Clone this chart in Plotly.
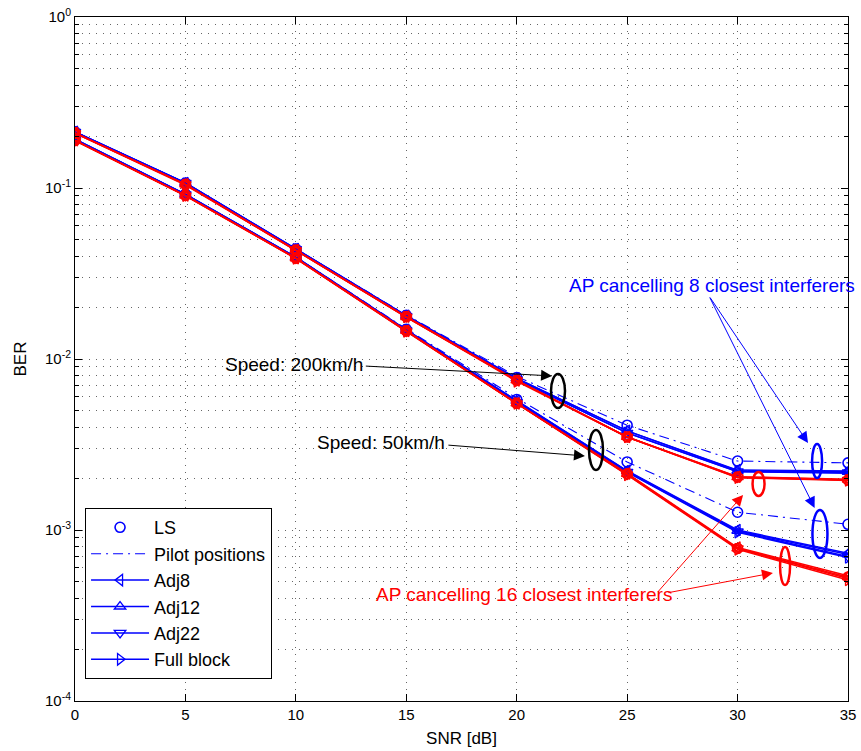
import math
import plotly.graph_objects as go

# ---------------------------------------------------------------------------
# BER vs SNR for channel estimators, two user speeds, two AP cancelling modes
# ---------------------------------------------------------------------------
snr = [0, 5, 10, 15, 20, 25, 30, 35]

# Speed 200 km/h, AP cancelling 8 closest interferers
ls_200_ap8 = [0.213, 0.107, 0.0440, 0.0180, 0.0078, 0.0041, 0.00253, 0.00247]
pilot_200_ap8 = [0.213, 0.107, 0.0440, 0.0181, 0.0079, 0.0041, 0.00253, 0.00247]
adj8_200_ap8 = [0.213, 0.107, 0.0440, 0.0179, 0.0077, 0.0038, 0.00224, 0.00221]
adj12_200_ap8 = [0.213, 0.107, 0.0440, 0.0179, 0.0077, 0.0038, 0.00222, 0.00219]
adj22_200_ap8 = [0.213, 0.107, 0.0439, 0.0178, 0.0076, 0.0037, 0.00220, 0.00217]
full_200_ap8 = [0.212, 0.106, 0.0438, 0.0178, 0.0076, 0.0037, 0.00219, 0.00215]

# Speed 200 km/h, AP cancelling 16 closest interferers
ls_200_ap16 = [0.210, 0.105, 0.0433, 0.0177, 0.0075, 0.0035, 0.00204, 0.00196]
pilot_200_ap16 = [0.210, 0.105, 0.0433, 0.0177, 0.0075, 0.0035, 0.00204, 0.00196]
adj8_200_ap16 = [0.210, 0.105, 0.0433, 0.0177, 0.0075, 0.0035, 0.00205, 0.00198]
adj12_200_ap16 = [0.210, 0.105, 0.0432, 0.0176, 0.0075, 0.0035, 0.00204, 0.00197]
adj22_200_ap16 = [0.209, 0.105, 0.0432, 0.0176, 0.0075, 0.0035, 0.00203, 0.00196]
full_200_ap16 = [0.209, 0.104, 0.0431, 0.0176, 0.0074, 0.0035, 0.00202, 0.00195]

# Speed 50 km/h, AP cancelling 8 closest interferers
ls_50_ap8 = [0.193, 0.0920, 0.0395, 0.0149, 0.0058, 0.00250, 0.00127, 0.00108]
pilot_50_ap8 = [0.193, 0.0920, 0.0395, 0.0150, 0.0059, 0.00250, 0.00127, 0.00108]
adj8_50_ap8 = [0.193, 0.0920, 0.0394, 0.0148, 0.0057, 0.00222, 0.00100, 0.00073]
adj12_50_ap8 = [0.193, 0.0918, 0.0394, 0.0148, 0.0057, 0.00221, 0.00099, 0.00072]
adj22_50_ap8 = [0.192, 0.0917, 0.0393, 0.0147, 0.0056, 0.00219, 0.00098, 0.00070]
full_50_ap8 = [0.192, 0.0915, 0.0392, 0.0147, 0.0056, 0.00218, 0.00097, 0.00069]

# Speed 50 km/h, AP cancelling 16 closest interferers
ls_50_ap16 = [0.190, 0.0905, 0.0389, 0.0146, 0.0055, 0.00213, 0.00078, 0.00053]
pilot_50_ap16 = [0.190, 0.0905, 0.0389, 0.0146, 0.0055, 0.00213, 0.00078, 0.00053]
adj8_50_ap16 = [0.190, 0.0905, 0.0389, 0.0146, 0.0055, 0.00214, 0.00079, 0.00054]
adj12_50_ap16 = [0.190, 0.0903, 0.0388, 0.0146, 0.0055, 0.00213, 0.00078, 0.00053]
adj22_50_ap16 = [0.189, 0.0902, 0.0388, 0.0145, 0.0055, 0.00211, 0.00078, 0.00052]
full_50_ap16 = [0.189, 0.0900, 0.0387, 0.0145, 0.0055, 0.00210, 0.00077, 0.00051]

y_tick_vals = [1, 0.1, 0.01, 0.001, 0.0001]
y_tick_text = ["10<sup>0</sup>", "10<sup>-1</sup>", "10<sup>-2</sup>",
               "10<sup>-3</sup>", "10<sup>-4</sup>"]

BLUE = "#0000FF"
RED = "#FF0000"
FONT = "Liberation Sans, Arial, Helvetica, sans-serif"

groups = [
    (BLUE, True, ls_200_ap8, pilot_200_ap8,
     [adj8_200_ap8, adj12_200_ap8, adj22_200_ap8, full_200_ap8]),
    (BLUE, False, ls_50_ap8, pilot_50_ap8,
     [adj8_50_ap8, adj12_50_ap8, adj22_50_ap8, full_50_ap8]),
    (RED, False, ls_200_ap16, pilot_200_ap16,
     [adj8_200_ap16, adj12_200_ap16, adj22_200_ap16, full_200_ap16]),
    (RED, False, ls_50_ap16, pilot_50_ap16,
     [adj8_50_ap16, adj12_50_ap16, adj22_50_ap16, full_50_ap16]),
]
est_names = ["Adj8", "Adj12", "Adj22", "Full block"]
est_symbols = ["triangle-left-open", "triangle-up-open",
               "triangle-down-open", "triangle-right-open"]

fig = go.Figure()
for color, show, ls, pilot, ests in groups:
    fig.add_trace(go.Scatter(
        x=snr, y=ls, mode="markers", name="LS", showlegend=show,
        marker=dict(symbol="circle-open", size=10, color=color,
                    line=dict(width=1.6, color=color))))
    fig.add_trace(go.Scatter(
        x=snr, y=pilot, mode="lines", name="Pilot positions", showlegend=show,
        line=dict(color=color, width=1.1, dash="10px,5px,2px,5px")))
    for name, sym, vals in zip(est_names, est_symbols, ests):
        fig.add_trace(go.Scatter(
            x=snr, y=vals, mode="lines+markers", name=name, showlegend=show,
            line=dict(color=color, width=1.5),
            marker=dict(symbol=sym, size=10, color=color,
                        line=dict(width=1.3, color=color))))

# Plot-area scale used to size the grouping ellipses
PLOT_W, PLOT_H = 861 - 75 - 13, 751 - 17 - 50
PX_PER_DB = PLOT_W / 35.0
PX_PER_DECADE = PLOT_H / 4.0

# Ellipses grouping the curves: centre (SNR, BER), size in pixels
ellipses = [
    (21.87, 0.0065, 14, 34, "black"),
    (23.59, 0.00294, 14, 40, "black"),
    (33.6, 0.00253, 10, 34, BLUE),
    (33.73, 0.000948, 15, 48, BLUE),
    (30.95, 0.00186, 12, 24, RED),
    (32.15, 0.000615, 10, 38, RED),
]
for cx, cy, w, h, col in ellipses:
    dx = w / 2 / PX_PER_DB
    fy = 10 ** (h / 2 / PX_PER_DECADE)
    fig.add_shape(type="circle", xref="x", yref="y",
                  x0=cx - dx, x1=cx + dx, y0=cy / fy, y1=cy * fy,
                  line=dict(color=col, width=2.5))

TXT = 19
annotations = [
    dict(x=13.13, y=-2.03, text="Speed: 200km/h", xanchor="right",
         showarrow=False, font=dict(size=TXT, color="black", family=FONT)),
    dict(x=16.84, y=-2.49, text="Speed: 50km/h", xanchor="right",
         showarrow=False, font=dict(size=TXT, color="black", family=FONT)),
    # this label runs past the right edge of the axes, so place it in paper units
    dict(x=1.0116, y=0.608, xref="paper", yref="paper",
         text="AP cancelling 8 closest interferers",
         xanchor="right", yanchor="middle", showarrow=False,
         font=dict(size=TXT, color=BLUE, family=FONT)),
    dict(x=20.35, y=-3.38, text="AP cancelling 16 closest interferers",
         xanchor="center", showarrow=False,
         font=dict(size=TXT, color=RED, family=FONT)),
]
arrows = [
    ((13.1, -2.041), (21.6, -2.099), "black", 1.0, 2.2),
    ((16.84, -2.503), (23.09, -2.567), "black", 1.0, 2.2),
    ((28.71, -1.632), (33.19, -2.491), BLUE, 1.0, 2.2),
    ((28.71, -1.632), (33.49, -2.871), BLUE, 1.0, 2.2),
    ((26.35, -3.368), (30.25, -2.795), RED, 1.0, 2.2),
    ((26.8, -3.368), (31.6, -3.251), RED, 1.0, 2.2),
]
for (tx, ty), (hx, hy), col, w, s in arrows:
    annotations.append(dict(
        x=hx, y=hy, ax=tx, ay=ty, xref="x", yref="y", axref="x", ayref="y",
        text="", showarrow=True, arrowhead=2, arrowsize=s, arrowwidth=w,
        arrowcolor=col, standoff=0))

minor_vals = [k * 10 ** e for e in range(-4, 0) for k in range(2, 10)]

fig.update_layout(
    width=861, height=751,
    margin=dict(l=75, r=13, t=17, b=50, autoexpand=False),
    paper_bgcolor="white", plot_bgcolor="white",
    font=dict(family=FONT, size=15, color="black"),
    showlegend=True,
    legend=dict(x=0.013, y=0.282, xanchor="left", yanchor="top",
                bgcolor="white", bordercolor="black", borderwidth=1,
                font=dict(size=18, family=FONT), itemwidth=58,
                tracegroupgap=0),
    annotations=annotations,
)
fig.update_xaxes(
    range=[0, 35], dtick=5, tick0=0, automargin=False,
    showline=True, linecolor="black", linewidth=1, mirror="ticks",
    ticks="inside", ticklen=7, tickcolor="black",
    showgrid=True, gridcolor="#666666", griddash="1px,6px", gridwidth=1,
    zeroline=False,
    title=dict(text="SNR [dB]", font=dict(size=17), standoff=10),
    tickfont=dict(size=15),
)
fig.update_yaxes(
    type="log", range=[-4, 0], automargin=False,
    tickvals=y_tick_vals, ticktext=y_tick_text,
    showline=True, linecolor="black", linewidth=1, mirror="ticks",
    ticks="inside", ticklen=7, tickcolor="black",
    showgrid=True, gridcolor="#666666", griddash="1px,6px", gridwidth=1,
    minor=dict(tickvals=minor_vals, ticks="inside", ticklen=4,
               tickcolor="black", showgrid=True, gridcolor="#666666",
               griddash="1px,6px", gridwidth=1),
    zeroline=False,
    title=dict(text="BER", font=dict(size=17), standoff=14),
    tickfont=dict(size=15),
)

fig.write_html("out.html")
